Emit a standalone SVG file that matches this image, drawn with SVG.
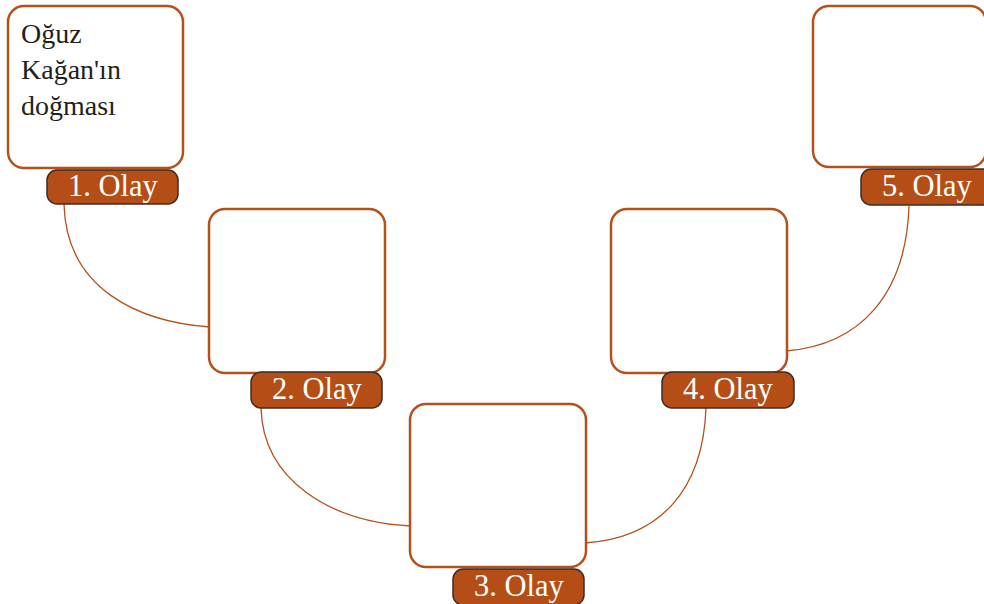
<svg xmlns="http://www.w3.org/2000/svg" width="984" height="604" viewBox="0 0 984 604">
<style>
.box{fill:#fff;stroke:#b6501b;stroke-width:2.5}
.lbl{fill:#b44e16;stroke:#3b2d26;stroke-width:1.5}
.lt{font-family:"Liberation Serif",serif;font-size:30.5px;fill:#fff}
.bt{font-family:"Liberation Serif",serif;font-size:28px;fill:#231f20}
.con{fill:none;stroke:#b6501b;stroke-width:1.3}
</style>
<rect width="984" height="604" fill="#fff"/>
<g id="connectors">
<path class="con" d="M64,204 C66,290 140,322 210,327"/>
<path class="con" d="M261,408 C263,480 330,522 411,526"/>
<path class="con" d="M585,543 C660,538 703,490 706,408"/>
<path class="con" d="M786,351 C860,345 906,295 909,206"/>
</g>
<g id="event1">
<rect class="box" x="8" y="6" width="175" height="162" rx="16"/>
<rect class="lbl" x="47" y="170" width="131" height="34" rx="10"/>
<text class="lt" x="68" y="196">1. Olay</text>
<text class="bt" x="21" y="43">Oğuz</text>
<text class="bt" x="21" y="79">Kağan'ın</text>
<text class="bt" x="21" y="115">doğması</text>
</g>
<g id="event2">
<rect class="box" x="209" y="209" width="176" height="164" rx="16"/>
<rect class="lbl" x="251" y="372" width="131" height="36" rx="10"/>
<text class="lt" x="272" y="399">2. Olay</text>
</g>
<g id="event3">
<rect class="box" x="410" y="404" width="176" height="163" rx="16"/>
<rect class="lbl" x="453" y="569" width="131" height="36" rx="10"/>
<text class="lt" x="474" y="596">3. Olay</text>
</g>
<g id="event4">
<rect class="box" x="611" y="209" width="176" height="164" rx="16"/>
<rect class="lbl" x="662" y="372" width="132" height="36" rx="10"/>
<text class="lt" x="683" y="399">4. Olay</text>
</g>
<g id="event5">
<rect class="box" x="813" y="6" width="173" height="161" rx="16"/>
<rect class="lbl" x="861" y="169" width="132" height="36" rx="10"/>
<text class="lt" x="882" y="196">5. Olay</text>
</g>
</svg>
